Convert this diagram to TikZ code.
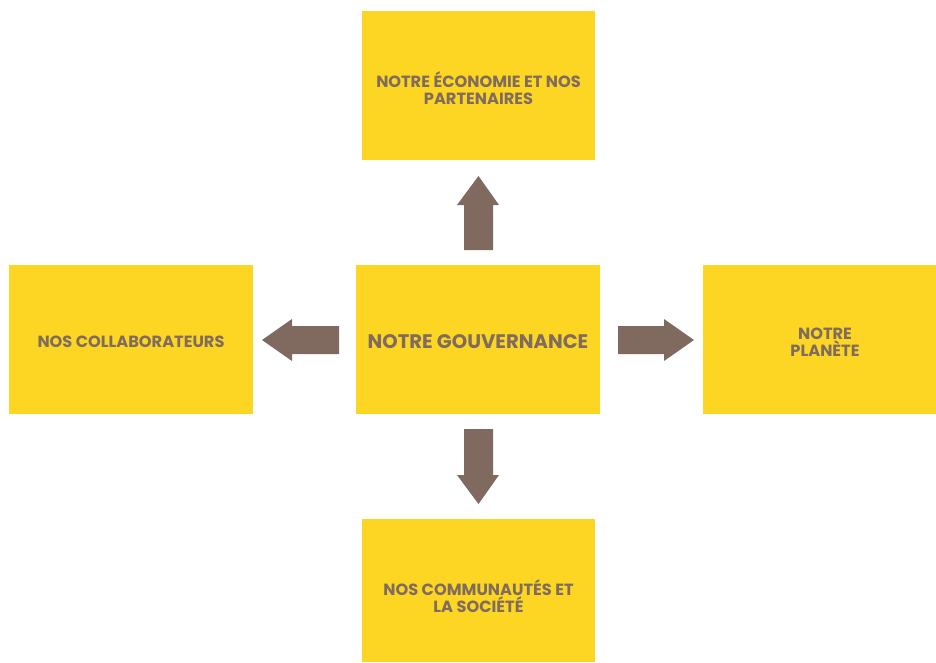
\documentclass[tikz,border=0pt]{standalone}
\usepackage{fontspec}
\setmainfont{Poppins}
\definecolor{boxyellow}{HTML}{FCD622}
\definecolor{arrowbrown}{HTML}{806A60}
\definecolor{txt}{HTML}{7F6B5F}
\begin{document}
\begin{tikzpicture}[x=1pt,y=-1pt,
  box/.style={fill=boxyellow,draw=none,inner sep=0pt},
  lbl/.style={text=txt,font=\bfseries\fontsize{16.2}{16.5}\selectfont,align=center,inner sep=0pt},
  big/.style={text=txt,font=\bfseries\fontsize{19.6}{20}\selectfont,align=center,inner sep=0pt},
  blockarrow/.style={fill=arrowbrown,draw=none}]
\useasboundingbox (0,0) rectangle (936,662);
\fill[white] (0,0) rectangle (936,662);
% boxes
\path[box] (362,11) rectangle (595,160);
\path[box] (9,265) rectangle (253,414);
\path[box] (356,265) rectangle (600,414);
\path[box] (703,265) rectangle (936,414);
\path[box] (362,519) rectangle (595,662);
% labels
\node[lbl] (top) at (478.5,88) {NOTRE ÉCONOMIE ET NOS\\PARTENAIRES};
\node[lbl] (left) at (131,342) {NOS COLLABORATEURS};
\node[big] (center) at (478,342) {NOTRE GOUVERNANCE};
\node[lbl] (right) at (825,342) {NOTRE\\PLANÈTE};
\node[lbl] (bottom) at (478.5,596) {NOS COMMUNAUTÉS ET\\LA SOCIÉTÉ};
% arrows
\fill[blockarrow] (464,250) -- (464,205) -- (457,205) -- (478.5,176) -- (499,205) -- (493,205) -- (493,250) -- cycle;
\fill[blockarrow] (464,429) -- (464,475) -- (457,475) -- (478.5,504) -- (499,475) -- (493,475) -- (493,429) -- cycle;
\fill[blockarrow] (339,326) -- (292,326) -- (292,319) -- (262,340) -- (292,361) -- (292,354) -- (339,354) -- cycle;
\fill[blockarrow] (618,326) -- (664,326) -- (664,319) -- (694,340) -- (664,361) -- (664,354) -- (618,354) -- cycle;
\end{tikzpicture}
\end{document}
